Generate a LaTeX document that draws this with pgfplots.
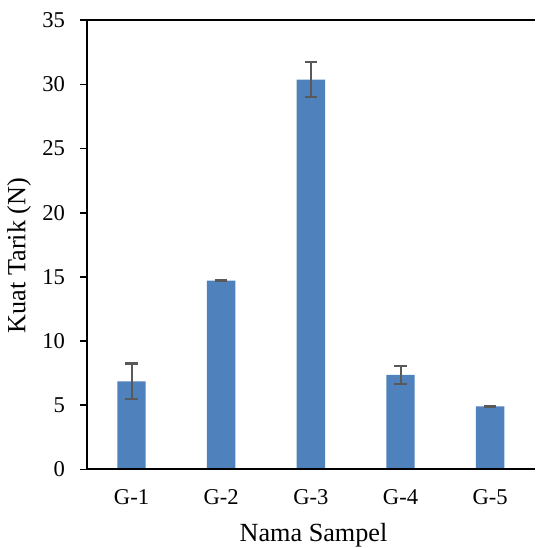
\documentclass[border=0pt]{standalone}
\usepackage{fontspec}
\setmainfont{Liberation Serif}
\usepackage{pgfplots}
\pgfplotsset{compat=1.18}
\definecolor{barblue}{HTML}{4F81BD}
\definecolor{errgray}{HTML}{595959}
\begin{document}
\begin{tikzpicture}
\useasboundingbox (-86.7pt,-78.7pt) rectangle (448.3pt,469.3pt);
\begin{axis}[
  at={(0pt,0pt)}, anchor=south west,
  scale only axis, width=448.3pt, height=449pt,
  xmin=0.5, xmax=5.5, ymin=0, ymax=35,
  xtick={1,2,3,4,5}, xticklabels={G-1,G-2,G-3,G-4,G-5},
  ytick={0,5,10,15,20,25,30,35},
  axis line style={draw=none},
  xtick pos=bottom, ytick pos=left,
  xtick style={draw=none},
  ytick style={line width=1.6pt, black},
  tick align=outside, major tick length=6.5pt,
  /pgf/number format/assume math mode=true,
  tick label style={font=\fontsize{22.6}{26}\selectfont},
  label style={font=\fontsize{26.2}{30}\selectfont},
  yticklabel style={anchor=east, inner sep=0pt, xshift=-15pt},
  xticklabel style={anchor=base, yshift=-29pt},
  xlabel={Nama Sampel},
  ylabel={Kuat Tarik (N)},
  xlabel style={at={(axis description cs:0.506,-0.1612)}, anchor=base},
  ylabel style={at={(axis description cs:-0.1370,0.476)}, anchor=base},
  clip=false,
]
\addplot[ybar, bar width=28.4pt, bar shift=0pt, fill=barblue, draw=none,
  error bars/.cd, y dir=both, y explicit,
  error bar style={line width=2pt, errgray},
  error mark options={rotate=90, line width=2.2pt, errgray, mark size=6.3pt}]
coordinates {
  (1,6.86) +- (0,1.38)
  (2,14.70) +- (0,0.05)
  (3,30.37) +- (0,1.38)
  (4,7.37) +- (0,0.70)
  (5,4.91) +- (0,0.03)
};
\draw[line width=2pt, black] (rel axis cs:0,0) -- (rel axis cs:0,1) -- (rel axis cs:1,1);
\draw[line width=2pt, black] (rel axis cs:0,0) -- (rel axis cs:1,0);
\end{axis}
\end{tikzpicture}
\end{document}
